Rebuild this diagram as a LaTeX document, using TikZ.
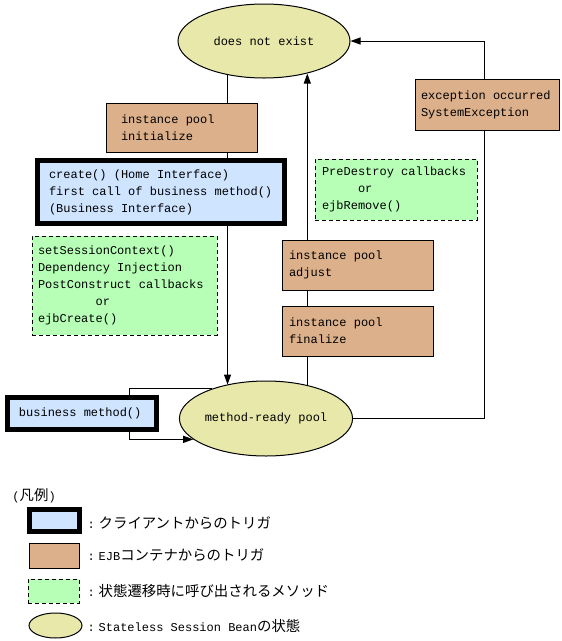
\documentclass[tikz,border=0pt]{standalone}
\usepackage{fontspec}
\setmainfont{Liberation Mono}
\setmonofont{Liberation Mono}
\newfontfamily\jpfont[Scale=1.2]{Noto Sans CJK JP}
\usetikzlibrary{shapes.geometric,arrows.meta}
\definecolor{statefill}{RGB}{232,232,170}
\definecolor{ejbfill}{RGB}{219,176,138}
\definecolor{clientfill}{RGB}{207,228,255}
\definecolor{callfill}{RGB}{183,255,183}

\begin{document}
\begin{tikzpicture}
    [x=1pt,y=-1pt,line width=1pt,>={Triangle[length=10pt,width=7pt]},
     font=\ttfamily\fontsize{12}{17}\selectfont,
     state/.style={ellipse,draw,fill=statefill,inner sep=0pt,minimum width=172pt,minimum height=74pt},
     ejb/.style={rectangle,draw,fill=ejbfill,align=flush left,inner ysep=0pt},
     client/.style={rectangle,draw,fill=clientfill,line width=5pt,align=flush left,inner ysep=0pt},
     call/.style={rectangle,draw,fill=callfill,dash pattern=on 4pt off 3pt,align=flush left,inner ysep=0pt},
     keytext/.style={anchor=west,inner sep=0pt}]
    \useasboundingbox (0, 0) rectangle (562, 641);
    \node (dne) at (264, 41) [state] {does not exist};
    \node (mrp) at (266, 418.5) [state, minimum height=75pt] {method-ready pool};
    \node (bizm) at (82, 413.5) [client, text width=126pt, inner xsep=11.5pt, minimum height=32pt] {business method()};
    \coordinate (exitx) at (484, 0);
    \coordinate (loopx) at (129, 0);
    \draw [->] (dne.223) to (dne.223 |- mrp.139);
    \draw [->] (mrp.39) to (mrp.39 |- dne.323);
    \draw [->] (mrp.east) -- (mrp.east -| exitx) -- (dne.east -| exitx) -- (dne.east);
    \draw (mrp.151) -- (mrp.151 -| loopx) -- (loopx |- bizm.north);
    \draw [->] (loopx |- bizm.south) -- (mrp.196 -| loopx) -- (mrp.196);
    \node (init) at (181.5, 127.5) [ejb, text width=121pt, inner xsep=15pt, minimum height=49pt] {instance pool\\initialize};
    \node (create) at (161, 192) [client, text width=224pt, inner xsep=11.5pt, minimum height=63pt] {create() (Home Interface)\\first call of business method()\\(Business Interface)};
    \node (setup) at (124.5, 285.5) [call, text width=173pt, inner xsep=6pt, minimum height=99pt] {setSessionContext()\\Dependency Injection\\PostConstruct callbacks\\\hspace*{57.6pt}or\\ejbCreate()};
    \node (predestroy) at (396, 189.5) [call, text width=148pt, inner xsep=7pt, minimum height=61pt] {PreDestroy callbacks\\\hspace*{36pt}or\\ejbRemove()};
    \node (adjust) at (357.5, 265) [ejb, text width=137pt, inner xsep=7pt, minimum height=50pt] {instance pool\\adjust};
    \node (finalize) at (357.5, 331) [ejb, text width=137pt, inner xsep=7pt, minimum height=50pt] {instance pool\\finalize};
    \node (exception) at (487, 104.5) [ejb, text width=132pt, inner xsep=6pt, minimum height=51pt] {exception occurred\\SystemException};
    % legend
    \node (legend) at (12, 496) [keytext] {({\jpfont 凡例})};
    \node (keyclient) at (54.5, 520.5) [client, minimum width=50pt, minimum height=22pt] {};
    \node (keyejb) at (54, 555.5) [ejb, minimum width=50pt, minimum height=25pt] {};
    \node (keycall) at (53.5, 591) [call, minimum width=51pt, minimum height=24pt] {};
    \node (keystate) at (55.5, 625.5) [state, minimum width=53pt, minimum height=25pt] {};
    \node (clienttext) at (87, 523) [keytext] {:\hspace{4pt}{\jpfont クライアントからのトリガ}};
    \node (ejbtext) at (87, 555) [keytext] {:\hspace{4pt}EJB{\jpfont コンテナからのトリガ}};
    \node (calltext) at (87, 591) [keytext] {:\hspace{4pt}{\jpfont 状態遷移時に呼び出されるメソッド}};
    \node (statetext) at (87, 626) [keytext] {:\hspace{4pt}Stateless Session Bean{\jpfont の状態}};
\end{tikzpicture}
\end{document}
